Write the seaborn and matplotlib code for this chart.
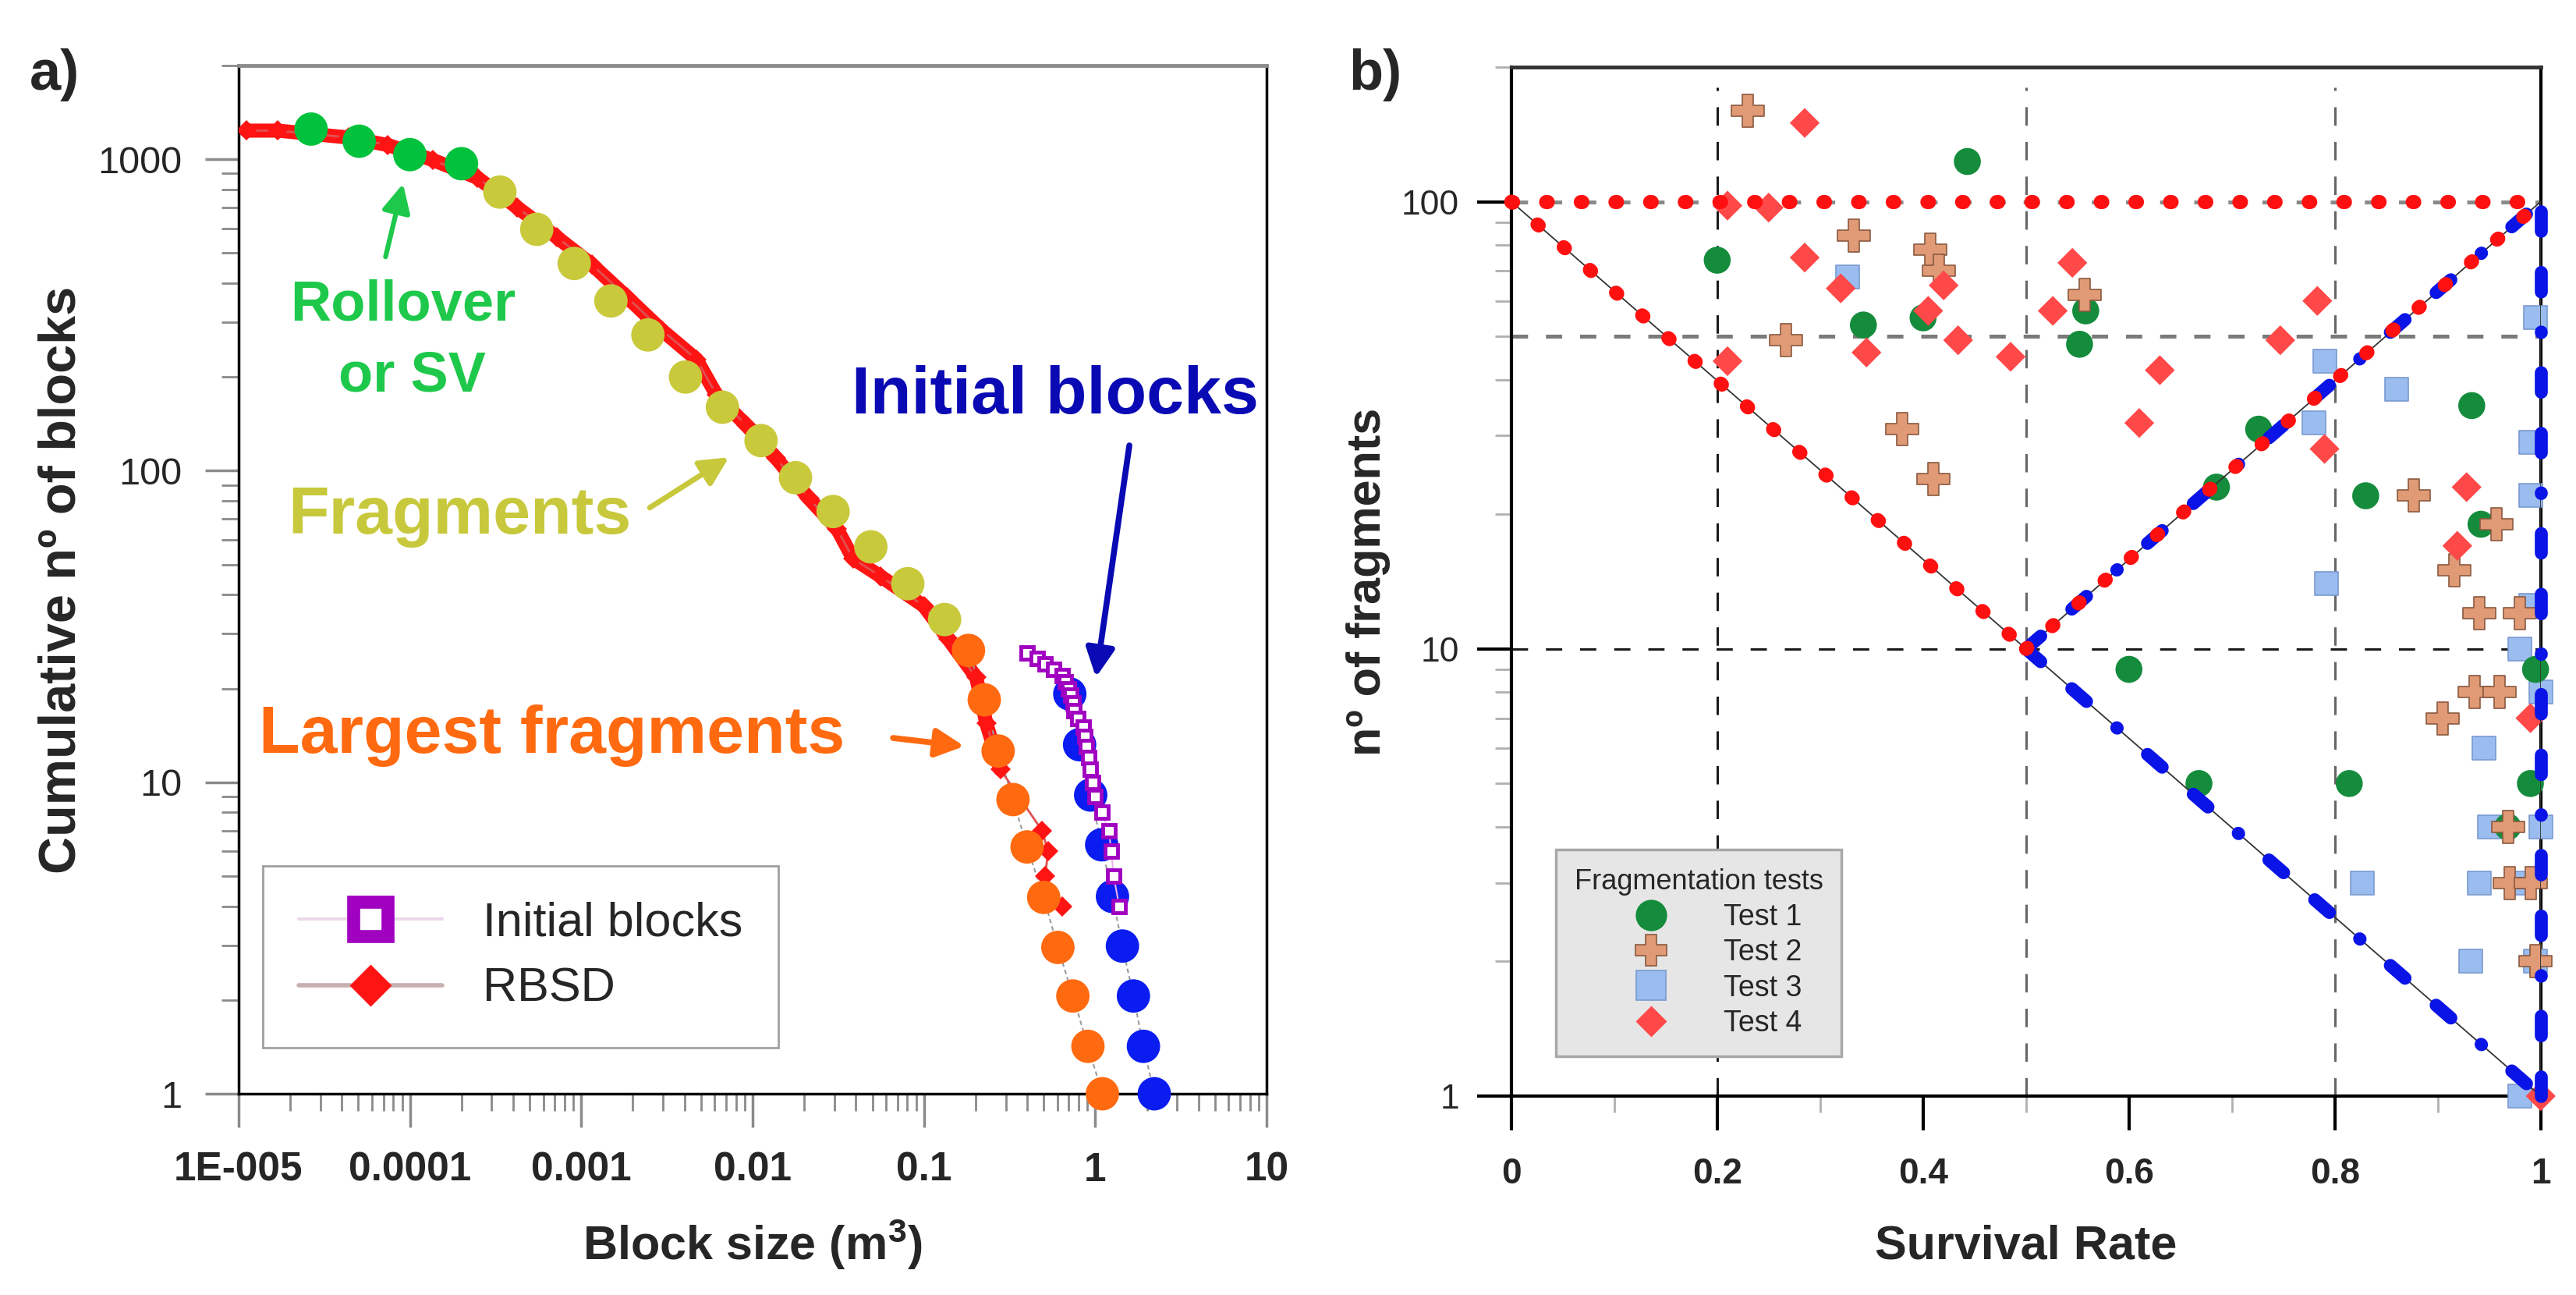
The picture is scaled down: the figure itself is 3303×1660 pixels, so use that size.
import matplotlib
matplotlib.use("Agg")
import matplotlib.pyplot as plt
from matplotlib.lines import Line2D
from matplotlib.ticker import LogLocator, NullFormatter, MultipleLocator
import seaborn as sns
import pandas as pd

# ---------------- a) cumulative block size distributions ----------------
rbsd_size = [1.11e-5, 1.7e-5, 4.37e-5, 7.45e-5, 1.36e-4, 2.48e-4, 4.24e-4, 7.24e-4,
             1.15e-3, 1.85e-3, 2.95e-3, 4.7e-3, 6.17e-3, 9.2e-3, 0.0137, 0.0214,
             0.0311, 0.0385, 0.056, 0.1, 0.139, 0.202, 0.231, 0.279,
             0.489, 0.53, 0.51, 0.64]
rbsd_count = [1236, 1236, 1175, 1111, 995, 872, 700, 561,
              460, 361, 283, 228, 175, 140, 110, 81.3,
              65.2, 52.3, 45.8, 36.8, 28.8, 21.7, 15.5, 11,
              7.0, 6.0, 5.0, 4.0]

rollover_size = [2.65e-5, 5.06e-5, 1.0e-4, 2.0e-4]
rollover_count = [1250, 1143, 1035, 968]

frag_size = [3.35e-4, 5.5e-4, 9.1e-4, 1.49e-3, 2.45e-3, 4.06e-3, 6.67e-3,
             0.0112, 0.0178, 0.0295, 0.049, 0.0805, 0.132]
frag_count = [785, 596, 463, 351, 273, 200, 160, 125, 95, 74, 57, 43.4, 33.3]

largest_size = [0.182, 0.225, 0.271, 0.331, 0.40, 0.50, 0.605, 0.74, 0.906, 1.10]
largest_count = [26.5, 18.4, 12.6, 8.8, 6.2, 4.27, 2.95, 2.06, 1.42, 1.0]

init_circ_size = [0.71, 0.81, 0.94, 1.09, 1.26, 1.44, 1.67, 1.91, 2.21]
init_circ_count = [19.2, 13.2, 9.1, 6.3, 4.3, 2.98, 2.06, 1.42, 1.0]

init_sq_size = [0.40, 0.46, 0.51, 0.57, 0.64, 0.67, 0.70, 0.72, 0.74, 0.75, 0.79, 0.855,
                0.87, 0.89, 0.92, 0.94, 0.97, 1.0, 1.09, 1.2, 1.24, 1.28, 1.38]
init_sq_count = [26, 25, 24, 23, 22, 21, 20, 19, 18, 17, 16, 15,
                 14, 13, 12, 11, 10, 9, 8, 7, 6, 5, 4]

a_xticks = [1e-5, 1e-4, 1e-3, 1e-2, 1e-1, 1, 10]
a_xlabels = ["1E-005", "0.0001", "0.001", "0.01", "0.1", "1", "10"]
a_yticks = [1, 10, 100, 1000]
a_ylabels = ["1", "10", "100", "1000"]

# ---------------- b) survival rate vs number of fragments ----------------
t1_x = [0.443, 0.20, 0.342, 0.40, 0.558, 0.552, 0.685, 0.726, 0.83, 0.933, 0.942,
        0.995, 0.60, 0.668, 0.814, 0.99, 0.968]
t1_y = [123, 74, 53, 55, 57, 48, 23, 31, 22, 35, 19, 9, 9, 5, 5, 5, 4]

t2_x = [0.23, 0.333, 0.407, 0.415, 0.267, 0.38, 0.41, 0.557, 0.877, 0.957, 0.916,
        0.94, 0.98, 0.936, 0.96, 0.905, 0.968, 0.97, 0.99, 0.995]
t2_y = [160, 84, 78, 70, 49, 31, 24, 62, 22, 19, 15, 12, 12, 8, 8, 7, 4, 3, 3, 2]

t3_x = [0.327, 0.79, 0.86, 0.78, 0.995, 0.99, 0.99, 0.792, 0.99, 0.98, 1.0, 0.945,
        0.95, 1.0, 0.827, 0.94, 0.98, 0.932, 0.995, 0.98]
t3_y = [68, 44, 38, 32, 55, 29, 22, 14, 12.5, 10, 8, 6, 4, 4, 3, 3, 3, 2, 2, 1]

t4_x = [0.285, 0.21, 0.25, 0.285, 0.32, 0.42, 0.405, 0.345, 0.21, 0.434, 0.485,
        0.545, 0.526, 0.63, 0.61, 0.783, 0.747, 0.79, 0.928, 0.919, 0.99, 1.0]
t4_y = [150, 98, 97, 75, 64, 65, 57, 46, 44, 49, 45, 73, 57, 42, 32, 60, 49, 28,
        23, 17, 7, 1]

test_names = ["Test 1", "Test 2", "Test 3", "Test 4"]

# limit lines of the fragmentation domain
top_x, top_y = [0, 1], [100, 100]
left_x, left_y = [0, 0.5], [100, 10]
right_x, right_y = [0.5, 1], [10, 100]
low_x, low_y = [0.5, 1], [10, 1]
edge_x, edge_y = [1, 1], [1, 100]

b_vlines = [0.2, 0.5, 0.8]
b_hlines = [10, 50, 100]
b_xticks = [0, 0.2, 0.4, 0.6, 0.8, 1]
b_xlabels = ["0", "0.2", "0.4", "0.6", "0.8", "1"]
b_yticks = [1, 10, 100]
b_ylabels = ["1", "10", "100"]

tests = pd.DataFrame({
    "sr": t1_x + t2_x + t3_x + t4_x,
    "n": t1_y + t2_y + t3_y + t4_y,
    "test": ([test_names[0]] * len(t1_x) + [test_names[1]] * len(t2_x)
             + [test_names[2]] * len(t3_x) + [test_names[3]] * len(t4_x)),
})

sns.set_theme(style="white")
plt.rcParams["font.family"] = ["Liberation Sans", "DejaVu Sans"]
plt.rcParams["mathtext.fontset"] = "custom"
plt.rcParams["mathtext.rm"] = "Liberation Sans"
plt.rcParams["mathtext.bf"] = "Liberation Sans:bold"
plt.rcParams["mathtext.default"] = "regular"
plt.rcParams["lines.scale_dashes"] = False

fig = plt.figure(figsize=(33.03, 16.60), dpi=100)
fig.patch.set_facecolor("white")

# ======================= panel a =======================
ax = fig.add_axes([0.0926, 0.1554, 0.3991, 0.7940])
ax.set_xscale("log")
ax.set_yscale("log")

red = "#ff1414"
band = 24
ax.plot(rbsd_size[:band], rbsd_count[:band], color=red, lw=13,
        solid_capstyle="round", solid_joinstyle="round", zorder=2)
sns.lineplot(x=rbsd_size, y=rbsd_count, sort=False, estimator=None, color="#e05050",
             lw=2, marker="D", markersize=13, markerfacecolor=red,
             markeredgewidth=0, ax=ax, zorder=3)

ax.plot(largest_size, largest_count, color="#9a9a9a", lw=1.5, ls=(0, (4, 3)), zorder=2)
ax.plot(init_circ_size, init_circ_count, color="#9a9a9a", lw=1.5, ls=(0, (4, 3)), zorder=2)

for xs, ys, c in [(rollover_size, rollover_count, "#00c23c"),
                  (frag_size, frag_count, "#c9c93c"),
                  (largest_size, largest_count, "#ff6a10"),
                  (init_circ_size, init_circ_count, "#0a1cf0")]:
    sns.scatterplot(x=xs, y=ys, s=950, color=c, edgecolor="none", ax=ax,
                    zorder=4, clip_on=False, legend=False)

sns.lineplot(x=init_sq_size, y=init_sq_count, sort=False, estimator=None,
             color="#eab0ea", lw=1.5, marker="s", markersize=11,
             markerfacecolor="white", markeredgecolor="#a000c0",
             markeredgewidth=3.5, ax=ax, zorder=5)

# annotations
ax.text(0.160, 0.752, "Rollover", transform=ax.transAxes, ha="center", va="baseline",
        fontsize=52, fontweight="bold", color="#1ec84a")
ax.text(0.169, 0.6836, "or SV", transform=ax.transAxes, ha="center", va="baseline",
        fontsize=52, fontweight="bold", color="#1ec84a")
ax.annotate("", xy=(0.160, 0.885), xytext=(0.143, 0.814), xycoords="axes fraction",
            arrowprops=dict(arrowstyle="-|>", color="#1ec84a", lw=4.5,
                            mutation_scale=55, shrinkA=0, shrinkB=0))

ax.text(0.2147, 0.5448, "Fragments", transform=ax.transAxes, ha="center", va="baseline",
        fontsize=62, fontweight="bold", color="#c8c83c")
ax.annotate("", xy=(0.477, 0.619), xytext=(0.400, 0.570), xycoords="axes fraction",
            arrowprops=dict(arrowstyle="-|>", color="#c8c83c", lw=5,
                            mutation_scale=55, shrinkA=0, shrinkB=0))

ax.text(0.0197, 0.3316, "Largest fragments", transform=ax.transAxes, ha="left",
        va="baseline", fontsize=62, fontweight="bold", color="#ff6a10")
ax.annotate("", xy=(0.706, 0.338), xytext=(0.6366, 0.346), xycoords="axes fraction",
            arrowprops=dict(arrowstyle="-|>", color="#ff6a10", lw=5.5,
                            mutation_scale=55, shrinkA=0, shrinkB=0))

ax.text(0.9924, 0.6616, "Initial blocks", transform=ax.transAxes, ha="right",
        va="baseline", fontsize=62, fontweight="bold", color="#0a0ab4")
ax.annotate("", xy=(0.834, 0.405), xytext=(0.8665, 0.6305), xycoords="axes fraction",
            arrowprops=dict(arrowstyle="-|>", color="#0a0ab4", lw=5.5,
                            mutation_scale=55, shrinkA=0, shrinkB=0))

a_handles = [
    Line2D([], [], color="#ead8ea", lw=3, marker="s", ms=31, mfc="white",
           mec="#a000c0", mew=12, label="Initial blocks"),
    Line2D([], [], color="#c8b0b0", lw=4, marker="D", ms=28, mfc=red, mec="none",
           label="RBSD"),
]
leg_a = ax.legend(handles=a_handles, loc="lower left", bbox_to_anchor=(0.024, 0.045),
                  borderaxespad=0, fontsize=44, handlelength=3.0, handletextpad=0.85,
                  labelspacing=0.45, borderpad=0.75, frameon=True, fancybox=False,
                  edgecolor="#a0a0a0", framealpha=1)
leg_a.get_frame().set_linewidth(2)

ax.set_xlim(1e-5, 10)
ax.set_ylim(1, 2000)
ax.set_xticks(a_xticks, a_xlabels, fontsize=37, fontweight="bold")
ax.set_yticks(a_yticks, a_ylabels, fontsize=35)
ax.xaxis.set_minor_locator(LogLocator(base=10, subs=range(2, 10), numticks=30))
ax.yaxis.set_minor_locator(LogLocator(base=10, subs=range(2, 10), numticks=30))
ax.xaxis.set_minor_formatter(NullFormatter())
ax.yaxis.set_minor_formatter(NullFormatter())
ax.tick_params(which="both", bottom=True, left=True, top=False, right=False)
ax.tick_params(which="major", direction="out", length=31, width=2.5, color="#8a8a8a")
ax.tick_params(which="minor", direction="out", length=16, width=2, color="#8a8a8a")
ax.tick_params(axis="x", which="major", pad=22)
ax.tick_params(axis="y", which="major", pad=21)
for s in ["left", "bottom", "right"]:
    ax.spines[s].set(color="black", lw=2.5)
ax.spines["top"].set(color="#8c8c8c", lw=3.5)

ax.set_xlabel("Block size (m$^{3}$)", fontsize=44, fontweight="bold")
ax.xaxis.set_label_coords(0.5, -0.12)
ax.set_ylabel("Cumulative nº of blocks", fontsize=48, fontweight="bold")
ax.yaxis.set_label_coords(-0.148, 0.5)

# ======================= panel b =======================
axb = fig.add_axes([0.5867, 0.1536, 0.3996, 0.7946])
axb.set_yscale("log")

for xv, c in zip(b_vlines, ["#1a1a1a", "#666666", "#666666"]):
    axb.vlines(xv, 1, 180, colors=c, linestyles=[(0, (17, 15))], lw=2.2, zorder=1)
for yv, c, w in zip(b_hlines, ["#1a1a1a", "#7a7a7a", "#8a8a8a"], [2.2, 3.6, 3.6]):
    axb.axhline(yv, color=c, lw=w, ls=(0, (15, 16.5)), zorder=1)

styles = {
    "Test 1": dict(marker="o", s=620, color="#148c3c", edgecolor="none", linewidth=0),
    "Test 2": dict(marker="P", s=950, color="#e09a76", edgecolor="#8a5a40", linewidth=1.2),
    "Test 3": dict(marker="s", s=480, color="#9abcee", edgecolor="#7a9ad0", linewidth=1.2),
    "Test 4": dict(marker="D", s=380, color="#ff4848", edgecolor="none", linewidth=0),
}
for name in ["Test 3", "Test 1", "Test 2", "Test 4"]:
    sub = tests[tests["test"] == name]
    sns.scatterplot(data=sub, x="sr", y="n", ax=axb, zorder=3, clip_on=False,
                    legend=False, **styles[name])

for xs, ys in [(left_x, left_y), (right_x, right_y), (low_x, low_y), (edge_x, edge_y)]:
    axb.plot(xs, ys, color="#333333", lw=1.3, zorder=4)
for xs, ys in [(right_x, right_y), (low_x, low_y), (edge_x, edge_y)]:
    axb.plot(xs, ys, color="#0a14e6", lw=12, ls=(0, (18, 38, 18, 37, 0.5, 37)),
             dash_capstyle="round", zorder=5, clip_on=False)
for xs, ys in [(top_x, top_y), (left_x, left_y), (right_x, right_y)]:
    axb.plot(xs, ys, color="#ff1010", lw=13, ls=(0, (1.5, 30.5)),
             dash_capstyle="round", zorder=6, clip_on=False)

b_handles = [
    Line2D([], [], ls="none", marker="o", ms=29, mfc="#148c3c", mec="none", label="Test 1"),
    Line2D([], [], ls="none", marker="P", ms=29, mfc="#e09a76", mec="#8a5a40", mew=1.2,
           label="Test 2"),
    Line2D([], [], ls="none", marker="s", ms=28, mfc="#9abcee", mec="#7a9ad0", mew=1.2,
           label="Test 3"),
    Line2D([], [], ls="none", marker="D", ms=20, mfc="#ff4848", mec="none", label="Test 4"),
]
leg_b = axb.legend(handles=b_handles, loc="lower left", bbox_to_anchor=(0.043, 0.0387),
                   borderaxespad=0, title="Fragmentation tests", title_fontsize=26,
                   fontsize=27, handlelength=3.8, handletextpad=0.6, labelspacing=0.25,
                   borderpad=0.64, frameon=True, fancybox=False, facecolor="#e6e6e6",
                   edgecolor="#a8a8a8", framealpha=1)
leg_b.get_frame().set_linewidth(2.5)
leg_b.set_zorder(10)

axb.set_xlim(0, 1)
axb.set_ylim(1, 200)
axb.set_xticks(b_xticks, b_xlabels, fontsize=33, fontweight="bold")
axb.set_yticks(b_yticks, b_ylabels, fontsize=32)
axb.xaxis.set_minor_locator(MultipleLocator(0.1))
axb.yaxis.set_minor_locator(LogLocator(base=10, subs=range(2, 10), numticks=30))
axb.yaxis.set_minor_formatter(NullFormatter())
axb.tick_params(which="both", bottom=True, left=True, top=False, right=False)
axb.tick_params(which="major", direction="out", length=32, width=3, color="black")
axb.tick_params(which="minor", direction="out", length=15, width=2, color="#b0b0b0")
axb.tick_params(axis="x", which="major", pad=24)
axb.tick_params(axis="y", which="major", pad=16)
for s in ["left", "bottom", "right"]:
    axb.spines[s].set(color="black", lw=3)
axb.spines["top"].set(color="#333333", lw=3.5)

axb.set_xlabel("Survival Rate", fontsize=44, fontweight="bold")
axb.xaxis.set_label_coords(0.5, -0.125)
axb.set_ylabel("nº of fragments", fontsize=44, fontweight="bold")
axb.yaxis.set_label_coords(-0.117, 0.5)

fig.text(0.0115, 0.9307, "a)", fontsize=52, fontweight="bold", va="baseline")
fig.text(0.5235, 0.9307, "b)", fontsize=52, fontweight="bold", va="baseline")

fig.savefig("out.png", dpi=100, facecolor="white")
